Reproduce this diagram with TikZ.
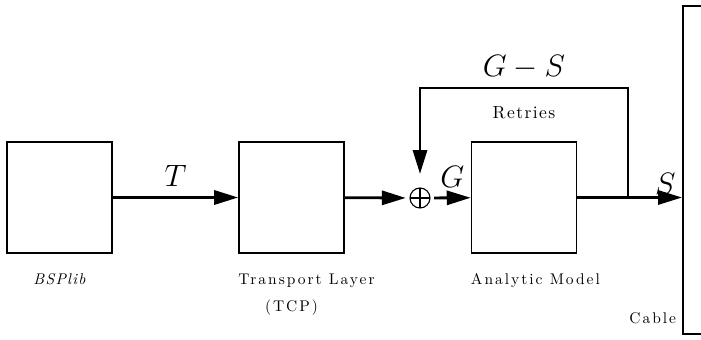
\RequirePackage{fix-cm}
\documentclass[tikz,border=0pt]{standalone}
\usepackage{fontspec}
\setmainfont{lmroman10-regular.otf}[ItalicFont=lmroman10-italic.otf, BoldFont=lmroman10-bold.otf]
\usepackage{amsmath}
\usetikzlibrary{arrows.meta,positioning}
\tikzset
{
    block/.style    = {draw=black, line width=1.2pt, minimum width=2.625cm, minimum height=2.775cm},
    lbl/.style      = {font=\fontsize{11}{21}\selectfont\addfontfeature{LetterSpace=13}, align=center, inner sep=0pt},
    sig/.style      = {font=\fontsize{22}{26}\selectfont, inner sep=1pt},
    flow/.style     = {->, line width=2pt},
    junction/.style = {circle, draw=black, line width=0.8pt, minimum size=0.5cm, inner sep=0pt, outer sep=3pt,
                       path picture={\draw[line width=0.8pt] (path picture bounding box.north) -- (path picture bounding box.south)
                                     (path picture bounding box.west) -- (path picture bounding box.east);}}
}

\begin{document}
\begin{tikzpicture}[x=0.025cm, y=-0.025cm, >={Triangle[length=17pt,width=10pt]}]
    \useasboundingbox (0,0) rectangle (701,340);
    \clip (0,0) rectangle (701,340);

    \node [block] (bsp) at (59.5,197.5) {};
    \node [block] (tcp) at (291.5,197.5) {};
    \node [junction] (sum) at (420,198) {};
    \node [block] (model) at (524,197.5) {};
    \node [block, anchor=north west, minimum width=1.5cm, minimum height=8.2cm] (cable) at (682,5) {};

    \coordinate (split) at (628,198);
    \coordinate (corner) at (628,88);

    \draw [flow] (bsp) -- node [sig, above=6pt] {$T$} (tcp);
    \draw [flow] (tcp) -- (sum);
    \draw [flow] (sum) -- node [sig, above=5pt] {$G$} (model);
    \draw [flow] (model) -- (model -| cable.west) node [sig, above=0pt, pos=0.84] {$S$};
    \draw [flow, shorten >=7pt] (split) -- (corner) -| node [sig, above=4pt, pos=0.25] {$G-S$}
        node [lbl, font=\fontsize{12.5}{14}\selectfont\addfontfeature{LetterSpace=8}, below=12pt, pos=0.25] {Retries} (sum);

    \node [lbl, below=14pt of bsp, font=\fontsize{11}{21}\selectfont\itshape\addfontfeature{LetterSpace=8}] (bsplbl) {BSPlib};
    \node [lbl, below right=14pt and 0pt of tcp.south west] (tcplbl) {Transport Layer};
    \node [lbl, below=1.15cm of tcp] (tcpsub) {(TCP)};
    \node [lbl, below right=14pt and 0pt of model.south west] (modellbl) {Analytic Model};
    \node [lbl, anchor=south east] (cablelbl) at ([xshift=-4pt, yshift=0.27cm]cable.south west) {Cable};
\end{tikzpicture}
\end{document}
